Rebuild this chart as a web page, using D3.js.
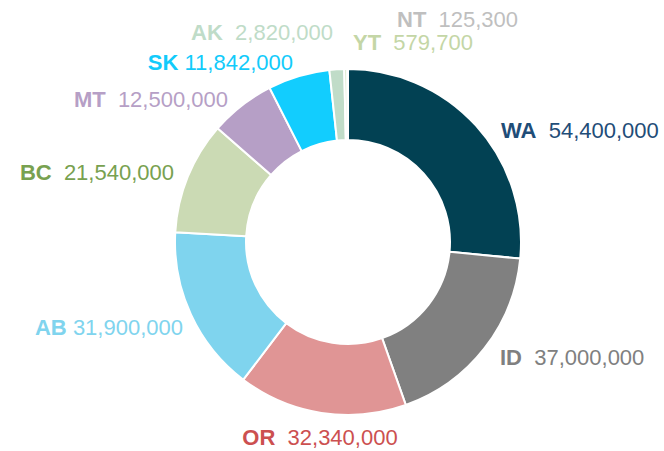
<!DOCTYPE html>
<html>
<head>
<meta charset="utf-8">
<script src="https://cdn.jsdelivr.net/npm/d3@7"></script>
<style>
  body { margin: 0; background: #fff; }
  text { font-family: "Liberation Sans", Arial, sans-serif; }
</style>
</head>
<body>
<div class="chart"></div>
<script>
// data, clockwise from 12 o'clock
var regions = ["WA", "ID", "OR", "AB", "BC", "MT", "SK", "AK", "YT", "NT"];
var values = [54400000, 37000000, 32340000, 31900000, 21540000, 12500000, 11842000, 2820000, 579700, 125300];

// styling
var sliceColors = ["#024153", "#808080", "#e09595", "#7fd4ee", "#cbdab4", "#b69fc6", "#12cdfe", "#c0dcc8", "#d3e6c4", "#bfbfbf"];
var textColors = ["#1f4d78", "#808080", "#cc5050", "#80d4ee", "#78a150", "#b69fc6", "#12cbfb", "#bfdcc8", "#c4d6a6", "#bfbfbf"];
// label anchors (manually placed in the original), [x, baseline, anchor, gap]
var labelPos = [
  [501, 138, "start", "  "],
  [500, 365, "start", "  "],
  [320, 445, "middle", "  "],
  [183, 335, "end", " "],
  [174, 180, "end", "  "],
  [228, 107, "end", "  "],
  [293, 70, "end", " "],
  [333, 40, "end", "  "],
  [353, 50, "start", "  "],
  [397, 27, "start", "  "]
];

var width = 664, height = 451;
var cx = 348, cy = 242;
var outerR = 173, innerR = 102;

var svg = d3.select(".chart")
            .append("svg")
            .attr("width", width)
            .attr("height", height);

var fmt = d3.format(",");

var pie = d3.pie().sort(null).value(function(d) { return d; });
var arc = d3.arc().innerRadius(innerR).outerRadius(outerR);

var g = svg.append("g").attr("transform", "translate(" + cx + "," + cy + ")");

g.selectAll("path")
  .data(pie(values))
  .enter().append("path")
  .attr("d", arc)
  .attr("fill", function(d, i) { return sliceColors[i]; })
  .attr("stroke", "#fff")
  .attr("stroke-width", 2)
  .attr("stroke-linejoin", "round");

var labels = svg.selectAll(".lbl")
  .data(regions)
  .enter().append("text")
  .attr("class", "lbl")
  .attr("x", function(d, i) { return labelPos[i][0]; })
  .attr("y", function(d, i) { return labelPos[i][1]; })
  .attr("text-anchor", function(d, i) { return labelPos[i][2]; })
  .style("font-size", "22px")
  .style("white-space", "pre")
  .attr("fill", function(d, i) { return textColors[i]; });

labels.append("tspan")
  .style("font-weight", "bold")
  .text(function(d) { return d; });

labels.append("tspan")
  .text(function(d, i) { return labelPos[i][3] + fmt(values[i]); });
</script>
</body>
</html>
